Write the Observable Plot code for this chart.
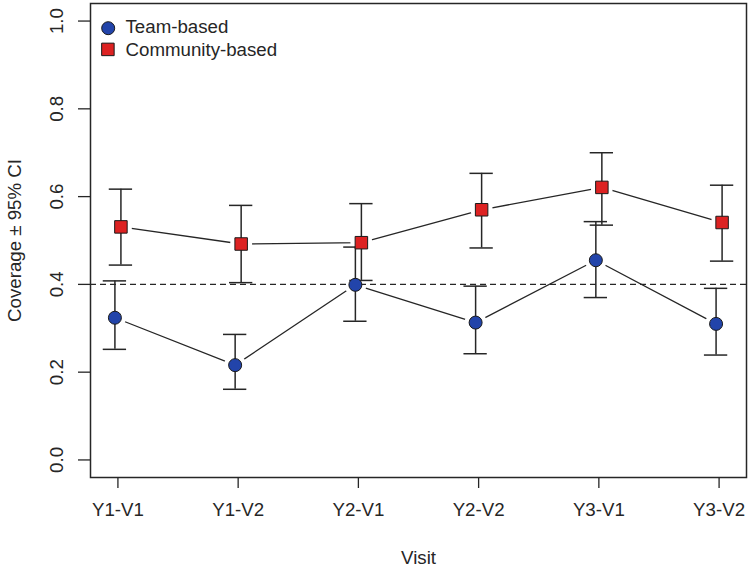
<!DOCTYPE html>
<html>
<head>
<meta charset="utf-8">
<script src="https://cdn.jsdelivr.net/npm/d3@7"></script>
<script src="https://cdn.jsdelivr.net/npm/@observablehq/plot@0.6"></script>
<style>
  body { margin: 0; background: #fff; }
  #chart svg { display: block; }
</style>
</head>
<body>
<div id="chart"></div>
<script>
// Visitas y valores
const visits = ["Y1-V1", "Y1-V2", "Y2-V1", "Y2-V2", "Y3-V1", "Y3-V2"]
const series = ["Team-based", "Community-based"]

const teamMean = [0.324, 0.216, 0.399, 0.313, 0.455, 0.310]
const teamLow = [0.252, 0.161, 0.316, 0.242, 0.370, 0.239]
const teamHigh = [0.408, 0.286, 0.485, 0.396, 0.543, 0.391]

const commMean = [0.531, 0.492, 0.495, 0.570, 0.621, 0.541]
const commLow = [0.444, 0.404, 0.409, 0.483, 0.535, 0.453]
const commHigh = [0.617, 0.580, 0.584, 0.653, 0.700, 0.626]

const yTicks = [0, 0.2, 0.4, 0.6, 0.8, 1.0]
const refLine = 0.4

const dodge = 0.025   // pequeño corrimiento entre series
const cap = 0.097     // medio ancho del "bigote"

const rows = []
visits.forEach((v, i) => {
    rows.push({ serie: series[0], visit: v, x: i + 1 - dodge, mean: teamMean[i], low: teamLow[i], high: teamHigh[i] })
    rows.push({ serie: series[1], visit: v, x: i + 1 + dodge, mean: commMean[i], low: commLow[i], high: commHigh[i] })
})
const team = rows.filter(d => d.serie == series[0])
const comm = rows.filter(d => d.serie == series[1])

const ink = "#262626"
const blue = "#2244aa"
const red = "#dd2222"
const font = "Liberation Sans, Arial, Helvetica, sans-serif"
const fs = 18.7

let chart = Plot.plot({
    width: 750,
    height: 567,
    marginLeft: 90,
    marginRight: 4,
    marginTop: 3,
    marginBottom: 90,
    style: { fontFamily: font, fontSize: fs + "px", color: ink, background: "#fff" },
    x: { domain: [0.772, 6.228] },
    y: { domain: [-0.04, 1.04] },
    marks: [
        // lineas que unen los puntos
        Plot.line(team, { x: "x", y: "mean", stroke: ink, strokeWidth: 1.3 }),
        Plot.line(comm, { x: "x", y: "mean", stroke: ink, strokeWidth: 1.3 }),
        // huecos blancos alrededor de los marcadores (estilo type="b")
        Plot.dot(rows, { x: "x", y: "mean", r: 11, fill: "white" }),
        Plot.ruleY([refLine], { stroke: ink, strokeWidth: 1.3, strokeDasharray: "6,4" }),
        // intervalos de confianza
        Plot.ruleX(rows, { x: "x", y1: "low", y2: "high", stroke: ink, strokeWidth: 1.5 }),
        Plot.ruleY(rows, { y: "low", x1: d => d.x - cap, x2: d => d.x + cap, stroke: ink, strokeWidth: 1.5 }),
        Plot.ruleY(rows, { y: "high", x1: d => d.x - cap, x2: d => d.x + cap, stroke: ink, strokeWidth: 1.5 }),
        // marcadores
        Plot.dot(team, { x: "x", y: "mean", r: 6.5, symbol: "circle", fill: blue, stroke: "#1a1a1a", strokeWidth: 1 }),
        Plot.dot(comm, { x: "x", y: "mean", r: 7.05, symbol: "square", fill: red, stroke: "#1a1a1a", strokeWidth: 1 }),
        // leyenda
        Plot.dot([series[0]], { frameAnchor: "top-left", dx: 17.7, dy: 24.7, r: 6.5, symbol: "circle", fill: blue, stroke: "#1a1a1a", strokeWidth: 1 }),
        Plot.dot([series[1]], { frameAnchor: "top-left", dx: 17.4, dy: 45.9, r: 7.05, symbol: "square", fill: red, stroke: "#1a1a1a", strokeWidth: 1 }),
        Plot.text([series[0]], { text: d => d, frameAnchor: "top-left", dx: 35, dy: 24, textAnchor: "start", lineAnchor: "middle", fill: ink, fontSize: fs }),
        Plot.text([series[1]], { text: d => d, frameAnchor: "top-left", dx: 35, dy: 47, textAnchor: "start", lineAnchor: "middle", fill: ink, fontSize: fs }),
        // ejes
        Plot.axisY({
            ticks: yTicks, tickFormat: d3.format(".1f"), tickRotate: -90, tickSize: 12, tickPadding: 16,
            label: "Coverage ± 95% CI", labelAnchor: "center", labelArrow: "none", labelOffset: 83,
            stroke: ink, fill: ink, strokeWidth: 1.3, fontSize: fs
        }),
        Plot.axisX({
            ticks: [1, 2, 3, 4, 5, 6], tickFormat: d => visits[d - 1], tickSize: 11, tickPadding: 14,
            label: "Visit", labelAnchor: "center", labelArrow: "none", labelOffset: 86,
            stroke: ink, fill: ink, strokeWidth: 1.3, fontSize: fs
        }),
        Plot.frame({ stroke: ink, strokeWidth: 1.5 }),
    ],
})

d3.select('#chart').append(() => chart)
</script>
</body>
</html>
